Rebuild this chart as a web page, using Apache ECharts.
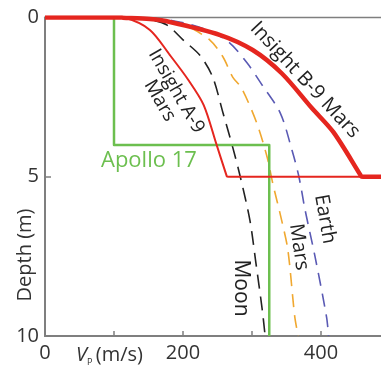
<!DOCTYPE html>
<html>
<head>
<meta charset="utf-8">
<script src="https://cdn.jsdelivr.net/npm/echarts@6/dist/echarts.min.js"></script>
<style>
html,body{margin:0;padding:0;background:#fff;}
#c{width:381px;height:369px;}
</style>
</head>
<body>
<div id="c"></div>
<script>
// Data: [Vp (m/s), depth (m)]
var apollo17 = [[100,0],[100,4],[325,4],[325,10]];
var insightA9 = [[0,0],[110,0],[116,0.01],[152,0.39],[181,1.18],[208,1.97],[230,2.75],[248,3.95],[263.5,4.99],[264,5.0],[266,5.0],[500,5.0]];
var insightB9 = [[0,0],[108,0],[113,0.005],[152,0.05],[181,0.14],[254,0.55],[301,1.02],[343,1.75],[387,2.85],[418,3.6],[458.5,4.99],[459,5.0],[461,5.0],[500,5.0]];
var moon = [[0,0],[120,0],[125,0.005],[155,0.08],[177,0.24],[200,0.7],[225,1.2],[243,1.87],[258,3.0],[272,4.07],[283,5.0],[297,6.37],[305,7.6],[315,9.2],[319,10]];
var mars = [[0,0],[130,0],[135,0.005],[170,0.08],[203,0.24],[239,0.71],[258,1.24],[272,1.87],[285,2.22],[307,3.32],[322,4.39],[330,5.2],[343,6.37],[352,7.3],[362,9.4],[367,10]];
var earth = [[0,0],[135,0],[140,0.005],[185,0.1],[230,0.35],[265,0.75],[293,1.43],[314,2.1],[341,3.0],[358,4.17],[368,5.0],[377,6.05],[391,7.47],[408,9.4],[411,10]];
var xTicks = [0,100,200,300,400,500];
var yTicks = [0,5,10];

var chart = echarts.init(document.getElementById('c'), null, {renderer:'canvas'});
var axisGray = '#7f7f7f';
var textCol = '#333333';
var font = '"Open Sans", "Noto Sans", sans-serif';

function lineSeries(name, data, color, width, type, z, smooth){
  return {name:name, type:'line', data:data, symbol:'none', smooth:smooth, z:z||2,
    lineStyle:{color:color, width:width, type:type||'solid', cap:'butt', join:'round'}, animation:false};
}

var option = {
  animation:false,
  grid:{left:45, top:17.5, right:-9, bottom:33, containLabel:false, outerBoundsMode:'none',
    show:true, borderColor:axisGray, borderWidth:1.5, backgroundColor:'transparent'},
  xAxis:{type:'value', min:xTicks[0], max:xTicks[xTicks.length-1], interval:100,
    axisLine:{show:true, onZero:false, lineStyle:{color:axisGray, width:2}},
    axisTick:{show:true, inside:true, length:5, lineStyle:{color:axisGray, width:1.5}},
    axisLabel:{fontSize:20, color:textCol, fontFamily:font, margin:7,
      formatter:function(v){ return (v%200===0 && v<500) ? String(v) : ''; }},
    splitLine:{show:false}},
  yAxis:{type:'value', inverse:true, min:yTicks[0], max:yTicks[yTicks.length-1], interval:5,
    axisLine:{show:true, onZero:false, lineStyle:{color:axisGray, width:2}},
    axisTick:{show:true, inside:true, length:6, lineStyle:{color:axisGray, width:1.5}},
    axisLabel:{fontSize:20, color:textCol, fontFamily:font, margin:6},
    splitLine:{show:false}},
  series:[
    lineSeries('Moon', moon, '#222222', 1.6, [14,8], 2, 0.3),
    lineSeries('Mars', mars, '#f0a830', 1.6, [13,8], 2, 0.3),
    lineSeries('Earth', earth, '#5a5ab4', 1.6, [13,8], 2, 0.3),
    lineSeries('Apollo 17', apollo17, '#6cbf4f', 2.5, 'solid', 3, false),
    lineSeries('Insight A-9 Mars', insightA9, '#e5261f', 2, 'solid', 4, 0.3),
    lineSeries('Insight B-9 Mars', insightB9, '#e5261f', 4.5, 'solid', 5, 0.3)
  ],
  graphic:[
    {type:'text', x:25, y:255, rotation:Math.PI/2, style:{text:'Depth (m)', fontSize:20, fontFamily:font, fill:textCol, align:'center', verticalAlign:'middle'}},
    {type:'text', x:76, y:355, style:{text:'{v|V}{s|P} {t|(m/s)}', align:'left', verticalAlign:'middle',
      rich:{v:{fontSize:20, fontStyle:'italic', fontFamily:font, fill:textCol, verticalAlign:'middle'},
            s:{fontSize:9, fontFamily:font, fill:textCol, verticalAlign:'bottom', padding:[14,0,0,0]},
            t:{fontSize:20, fontFamily:font, fill:textCol, verticalAlign:'middle'}}}},
    {type:'text', x:168, y:96, rotation:-Math.PI/3, style:{text:'Insight A-9\nMars', fontSize:19, lineHeight:19, fontFamily:font, fill:'#222', align:'center', verticalAlign:'middle'}},
    {type:'text', x:305, y:80, rotation:-47*Math.PI/180, style:{text:'Insight B-9 Mars', fontSize:20, fontFamily:font, fill:'#222', align:'center', verticalAlign:'middle'}},
    {type:'text', x:101, y:161, style:{text:'Apollo 17', fontSize:22, fontFamily:font, fill:'#6cbf4f', align:'left', verticalAlign:'middle'}},
    {type:'text', x:241, y:288, rotation:-Math.PI/2, style:{text:'Moon', fontSize:21, fontFamily:font, fill:'#222', align:'center', verticalAlign:'middle'}},
    {type:'text', x:299, y:247, rotation:-82*Math.PI/180, style:{text:'Mars', fontSize:20, fontFamily:font, fill:'#222', align:'center', verticalAlign:'middle'}},
    {type:'text', x:325, y:219, rotation:-80*Math.PI/180, style:{text:'Earth', fontSize:20, fontFamily:font, fill:'#222', align:'center', verticalAlign:'middle'}}
  ]
};
chart.setOption(option);
</script>
</body>
</html>
